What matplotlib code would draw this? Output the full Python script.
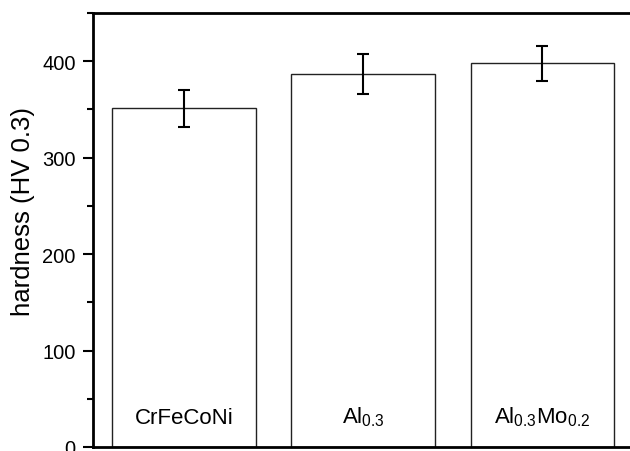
import matplotlib
matplotlib.use("Agg")
import matplotlib.pyplot as plt
from matplotlib.ticker import MultipleLocator

plt.rcParams['font.family'] = ['Liberation Sans', 'DejaVu Sans']
plt.rcParams['mathtext.default'] = 'regular'

categories = ['CrFeCoNi', r'Al$_{0.3}$', r'Al$_{0.3}$Mo$_{0.2}$']
hardness = [351, 387, 398]
errors = [19, 21, 18]

fig = plt.figure(figsize=(6.3, 4.52), dpi=100)
ax = fig.add_axes([93.3/630, 4/452, 538.8/630, 434/452])

x = list(range(len(categories)))
ax.bar(x, hardness, width=0.8, color='white', edgecolor='#222222', linewidth=1.0, zorder=2)
ax.errorbar(x, hardness, yerr=errors, fmt='none', ecolor='black', elinewidth=1.5,
            capsize=4.5, capthick=1.5, zorder=3)

for xi, lab in zip(x, categories):
    ax.text(xi, 25, lab, ha='center', va='baseline', fontsize=16, zorder=4)

ax.set_xlim(-0.505, 2.5)
ax.set_ylim(0, 450)
ax.yaxis.set_major_locator(MultipleLocator(100))
ax.yaxis.set_minor_locator(MultipleLocator(50))
ax.set_xticks([])
ax.tick_params(axis='y', which='major', length=7.3, width=1.5, labelsize=14.5, pad=5.5, direction='out')
ax.tick_params(axis='y', which='minor', length=4, width=1.5, direction='out')
for s in ax.spines.values():
    s.set_linewidth(2)
ax.spines['right'].set_visible(False)

fig.text(23/630, 1 - 212/452, 'hardness (HV 0.3)', rotation=90, ha='center', va='center', fontsize=18.5)

fig.savefig('out.png', dpi=100)
